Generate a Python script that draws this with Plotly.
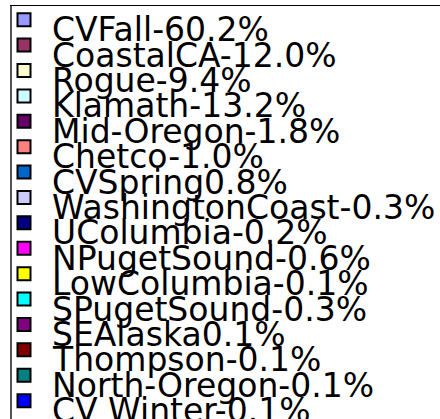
import plotly.graph_objects as go

labels = ["CVFall", "CoastalCA", "Rogue", "Klamath", "Mid-Oregon", "Chetco",
          "CVSpring", "WashingtonCoast", "UColumbia", "NPugetSound", "LowColumbia",
          "SPugetSound", "SEAlaska", "Thompson", "North-Oregon", "CV Winter"]
values = ["-60.2%", "-12.0%", "-9.4%", "-13.2%", "-1.8%", "-1.0%",
          "0.8%", "-0.3%", "-0.2%", "-0.6%", "-0.1%",
          "-0.3%", "0.1%", "-0.1%", "-0.1%", "-0.1%"]
colors = ["#9999FF", "#993366", "#FFFFCC", "#CCFFFF", "#660066", "#FF8080",
          "#0066CC", "#CCCCFF", "#000080", "#FF00FF", "#FFFF00",
          "#00FFFF", "#800080", "#800000", "#008080", "#0000FF"]

rows = list(range(len(labels)))
texts = [l + v for l, v in zip(labels, values)]

fig = go.Figure()
fig.add_trace(go.Scatter(
    x=[0] * len(rows), y=rows, mode="markers",
    marker=dict(symbol="square", size=13, color=colors,
                line=dict(color="black", width=2)),
    hoverinfo="skip", showlegend=False,
))
for r, t in zip(rows, texts):
    fig.add_annotation(x=0, y=r, xref="x", yref="y", text=t, showarrow=False,
                       xanchor="left", yanchor="middle", xshift=26, yshift=-10,
                       font=dict(family="DejaVu Sans", size=33, color="black"))

fig.update_layout(
    width=470, height=440,
    margin=dict(l=12, r=0, t=6, b=0),
    paper_bgcolor="white", plot_bgcolor="white",
    xaxis=dict(range=[-12, 446], showgrid=False, zeroline=False,
               showticklabels=False, ticks="", side="top",
               showline=True, linecolor="black", linewidth=1),
    yaxis=dict(range=[16.55, -0.539], showgrid=False, zeroline=False,
               showticklabels=False, ticks="",
               showline=True, linecolor="#555555", linewidth=2),
)
fig.write_html(
    "out.html", config={"displayModeBar": False},
    post_script=("document.documentElement.style.overflow='hidden';"
                 "document.body.style.margin='0';"
                 "document.body.style.overflow='hidden';"))
